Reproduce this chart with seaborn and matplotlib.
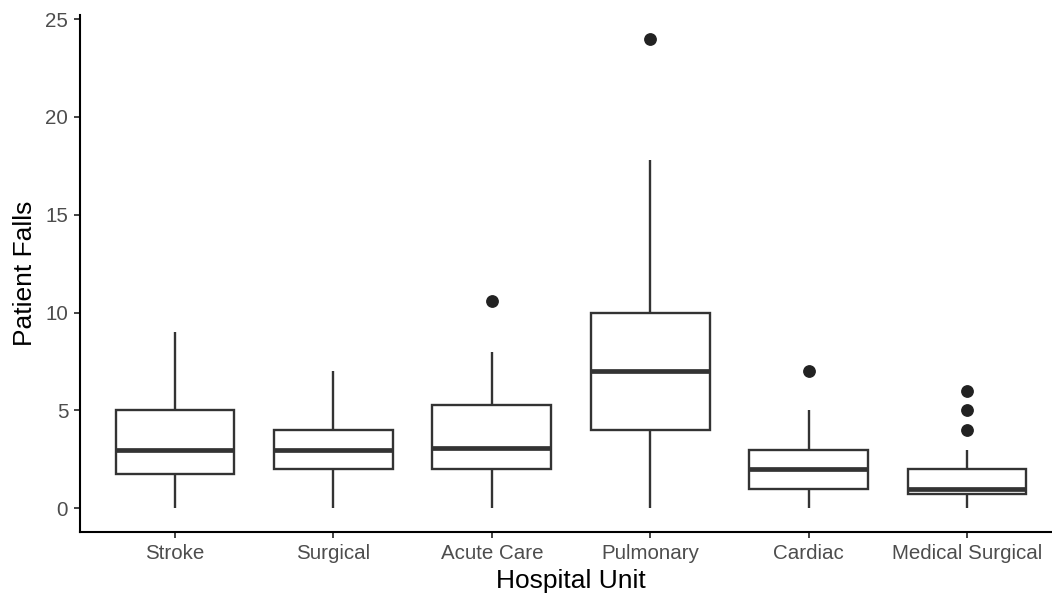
import matplotlib
matplotlib.use("Agg")
import matplotlib.pyplot as plt
import seaborn as sns
import pandas as pd

# hospital units in display order
units = ["Stroke", "Surgical", "Acute Care", "Pulmonary", "Cardiac", "Medical Surgical"]

# falls per unit (values read so the box stats match the picture)
stroke_falls = [0, 1, 1, 2, 3, 3, 3, 4, 5, 5, 7, 9]
surgical_falls = [0, 1, 2, 3, 3, 3, 4, 5, 7]
acute_care_falls = [0, 1, 2, 2, 3, 3, 3.2, 4, 5, 6, 8, 10.6]
pulmonary_falls = [0, 2, 4, 5, 7, 8, 10, 17.8, 24]
cardiac_falls = [0, 1, 1, 2, 2, 2, 3, 5, 7]
med_surg_falls = [0, 0, 0, 0, 0, 1, 1, 1, 1, 1, 1, 1, 1, 1, 2, 2, 3, 4, 5, 6]

y_ticks = [0, 5, 10, 15, 20, 25]

all_falls = [stroke_falls, surgical_falls, acute_care_falls,
             pulmonary_falls, cardiac_falls, med_surg_falls]
rows = []
for u, vals in zip(units, all_falls):
    for v in vals:
        rows.append({"Hospital Unit": u, "Patient Falls": v})
df = pd.DataFrame(rows)

sns.set_theme(style="white")
plt.rcParams['font.family'] = ['Liberation Sans', 'DejaVu Sans']

fig = plt.figure(figsize=(10.52, 6), dpi=100)
ax = fig.add_axes([80 / 1052, 68.3 / 600, 982 / 1052, 516.6 / 600])

sns.boxplot(data=df, x="Hospital Unit", y="Patient Falls", order=units,
            width=0.75, color="white", linecolor="#333333", linewidth=1.7,
            showcaps=False, whis=1.5, saturation=1,
            medianprops=dict(linewidth=3.4, color="#333333"),
            flierprops=dict(marker="o", markersize=8.2,
                            markerfacecolor="#222222", markeredgecolor="#222222"),
            ax=ax)

ax.set_xlim(-0.6, 5.6)
ax.set_ylim(-1.2, 25.2)
ax.set_yticks(y_ticks)

for s in ["top", "right"]:
    ax.spines[s].set_visible(False)
for s in ["left", "bottom"]:
    ax.spines[s].set_color("black")
    ax.spines[s].set_linewidth(1.5)

ax.tick_params(axis="both", which="both", length=4.5, width=1.2, color="#222222",
               labelsize=14.8, labelcolor="#4D4D4D", pad=4,
               bottom=True, left=True)
ax.set_xlabel("Hospital Unit", fontsize=19, color="black", labelpad=5)
ax.set_ylabel("Patient Falls", fontsize=19, color="black", labelpad=6)

fig.savefig("out.png", dpi=100, facecolor="white")
